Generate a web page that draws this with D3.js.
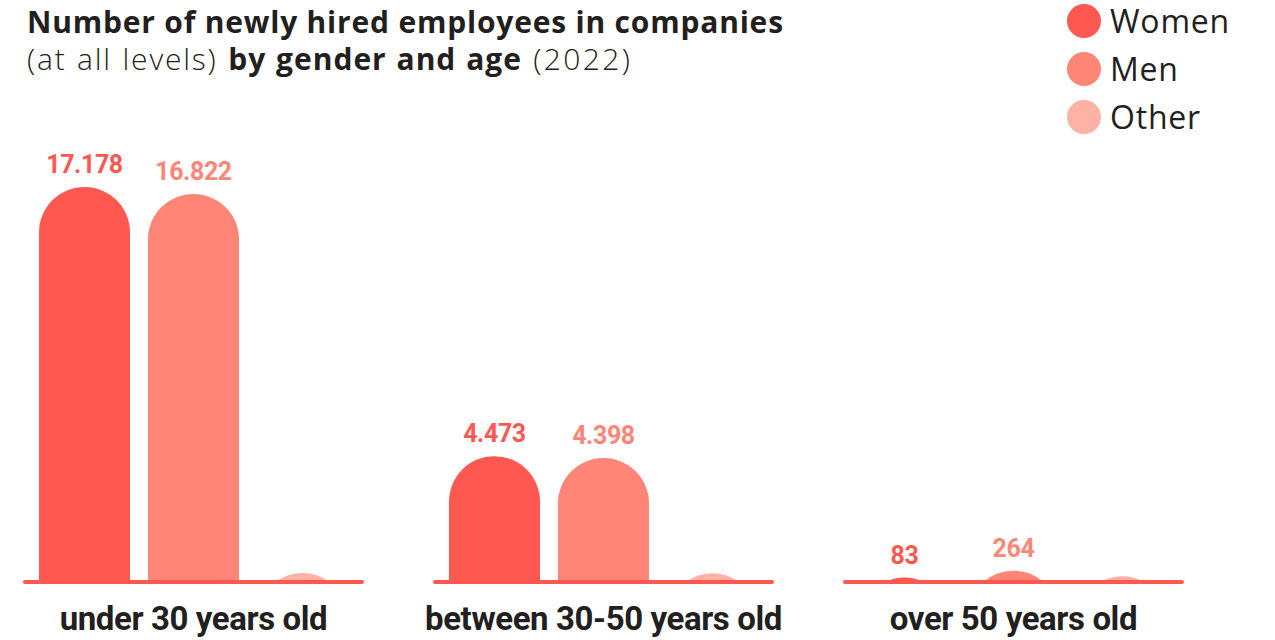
<!DOCTYPE html>
<html>
<head>
<meta charset="utf-8">
<script src="https://cdn.jsdelivr.net/npm/d3@7/dist/d3.min.js"></script>
<style>
  html, body { margin: 0; padding: 0; background: #ffffff; }
  svg { display: block; }
</style>
</head>
<body>
<svg id="chart" width="1275" height="640"></svg>
<script>
// Newly hired employees by age group and gender (2022)
const ageGroups = ["under 30 years old", "between 30-50 years old", "over 50 years old"];
const genders = ["Women", "Men", "Other"];
const women = [17178, 4473, 83];
const men = [16822, 4398, 264];
const other = [200, 195, 120];
const valueLabels = [["17.178", "16.822", null], ["4.473", "4.398", null], ["83", "264", null]];

const colors = { Women: "#ff5850", Men: "#ff8577", Other: "#ffb1a6" };
const textDark = "#231f20";

const rows = ageGroups.map((g, i) => ({
  group: g,
  values: [
    { key: "Women", value: women[i], label: valueLabels[i][0] },
    { key: "Men", value: men[i], label: valueLabels[i][1] },
    { key: "Other", value: other[i], label: valueLabels[i][2] }
  ]
}));

const svg = d3.select("#chart");

// Layout
const baseY = 582;
const x0 = d3.scaleBand().domain(ageGroups).range([25, 1182]).paddingInner(0.178);
const x1 = d3.scaleBand().domain(genders).range([14, x0.bandwidth() - 14]).paddingInner(0.165);
const maxV = d3.max([...women, ...men]);
const y = d3.scalePow().exponent(0.85).domain([0, maxV]).range([baseY, 187]);

// Bar with a fully rounded top; short bars become the cap segment above the baseline
function barPath(x, w, top) {
  const r = w / 2;
  const h = baseY - top;
  if (h >= r) {
    return `M${x},${baseY}V${top + r}A${r},${r} 0 0 1 ${x + w},${top + r}V${baseY}Z`;
  }
  const cx = x + r;
  const hw = Math.sqrt(r * r - (r - h) * (r - h));
  return `M${cx - hw},${baseY}A${r},${r} 0 0 1 ${cx + hw},${baseY}Z`;
}

const groups = svg.append("g").selectAll("g.group")
  .data(rows)
  .join("g")
  .attr("class", "group")
  .attr("transform", d => `translate(${x0(d.group)},0)`);

groups.selectAll("path.bar")
  .data(d => d.values)
  .join("path")
  .attr("class", "bar")
  .attr("fill", d => colors[d.key])
  .attr("d", d => barPath(x1(d.key), x1.bandwidth(), y(d.value)));

// Baseline under each group
groups.append("line")
  .attr("x1", 0)
  .attr("x2", x0.bandwidth())
  .attr("y1", baseY)
  .attr("y2", baseY)
  .attr("stroke", colors.Women)
  .attr("stroke-width", 4)
  .attr("stroke-linecap", "round");

// Value labels
groups.selectAll("text.value")
  .data(d => d.values.filter(v => v.label))
  .join("text")
  .attr("class", "value")
  .attr("x", d => x1(d.key) + x1.bandwidth() / 2)
  .attr("y", d => y(d.value) - 14)
  .attr("text-anchor", "middle")
  .attr("fill", d => colors[d.key])
  .style("font-family", "Roboto, sans-serif")
  .style("font-weight", 700)
  .style("font-size", "25px")
  .style("letter-spacing", "-0.4px")
  .text(d => d.label);

// Category labels
groups.append("text")
  .attr("x", x0.bandwidth() / 2)
  .attr("y", 630)
  .attr("text-anchor", "middle")
  .attr("fill", textDark)
  .style("font-family", "Roboto, sans-serif")
  .style("font-weight", 700)
  .style("font-size", "33px")
  .style("letter-spacing", "-0.4px")
  .text(d => d.group);

// Title
const titleFont = "'Open Sans', sans-serif";
svg.append("text")
  .attr("x", 27)
  .attr("y", 33)
  .attr("fill", textDark)
  .style("font-family", titleFont)
  .style("font-weight", 700)
  .style("font-size", "30px")
  .style("letter-spacing", "0.8px")
  .text("Number of newly hired employees in companies");

const sub = svg.append("text")
  .attr("x", 27)
  .attr("y", 70)
  .attr("fill", textDark)
  .style("font-family", titleFont)
  .style("font-size", "30px")
  .style("word-spacing", "1px");
sub.append("tspan").style("font-weight", 300).style("letter-spacing", "1.8px").text("(at all levels) ");
sub.append("tspan").style("font-weight", 700).style("letter-spacing", "1.0px").text("by gender and age");
sub.append("tspan").style("font-weight", 300).style("letter-spacing", "2.4px").text(" (2022)");

// Legend
const legend = svg.append("g").selectAll("g")
  .data(genders)
  .join("g")
  .attr("transform", (d, i) => `translate(1084,${21 + i * 48})`);
legend.append("circle").attr("r", 17).attr("fill", d => colors[d]);
legend.append("text")
  .attr("x", 26)
  .attr("y", 12)
  .attr("fill", textDark)
  .style("font-family", titleFont)
  .style("font-weight", 400)
  .style("font-size", "32px")
  .style("letter-spacing", "0.8px")
  .text(d => d);
</script>
</body>
</html>
